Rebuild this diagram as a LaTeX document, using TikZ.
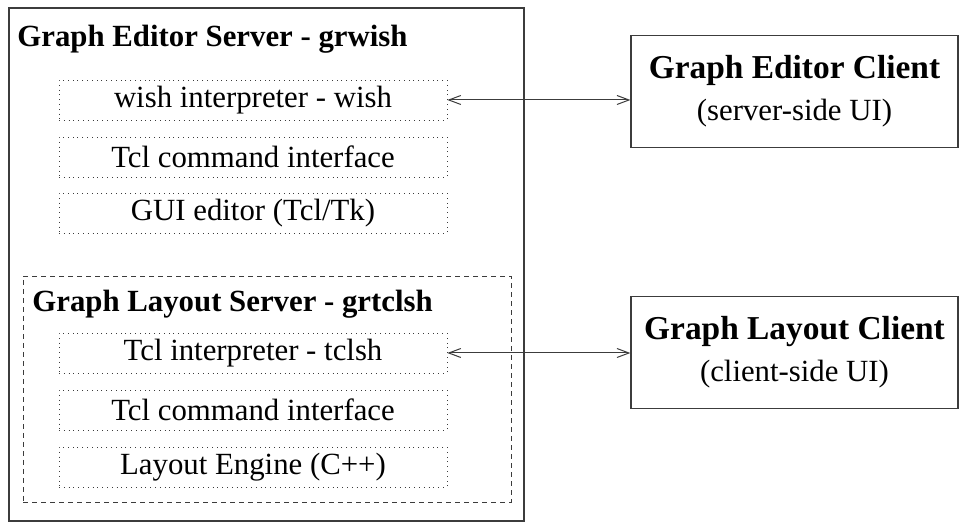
\documentclass[tikz,border=0pt]{standalone}
\usepackage{fontspec}
\setmainfont{Liberation Serif}
\usetikzlibrary{arrows.meta}
\definecolor{lineGrey}{RGB}{60, 60, 60}

\begin{document}
\begin{tikzpicture} [
        x=0.5pt, y=-0.5pt,
        part/.style={draw=lineGrey, dotted, minimum width=194pt, minimum height=20pt, inner sep=0pt,
            font=\fontsize{15.4}{18}\selectfont},
        ttl/.style={anchor=base west, inner sep=0pt, font=\fontsize{15.4}{18}\selectfont\bfseries},
        client/.style={draw=lineGrey, line width=0.6pt, minimum width=163.5pt, minimum height=56pt,
            align=center, font=\fontsize{15.4}{21}\selectfont},
        link/.style={lineGrey, line width=0.5pt,
            {Straight Barb[length=6pt, width=4.5pt]}-{Straight Barb[length=6pt, width=4.5pt]}}
    ]
        \useasboundingbox (0, 0) rectangle (960, 523);

        % SERVER: grwish
        \node [draw=lineGrey, line width=0.6pt, minimum width=257.5pt, minimum height=256.5pt, inner sep=0pt] (grwish) at (266.5, 264.5) {};
        \node [ttl] (grwishtitle) at (17, 47) {Graph Editor Server - grwish};

        % SERVER: grtclsh
        \node [draw=lineGrey, dash pattern=on 2.5pt off 2pt, minimum width=244pt, minimum height=113pt, inner sep=0pt] (grtclsh) at (267, 389) {};
        \node [ttl] (grtclshtitle) at (32, 312) {Graph Layout Server - grtclsh};

        % parts of both servers
        \foreach \y/\name/\txt in {100/wish/{wish interpreter - wish}, 157/tcla/{Tcl command interface}, 213/gui/{GUI editor (Tcl/Tk)},
                                   353/tclsh/{Tcl interpreter - tclsh}, 410/tclb/{Tcl command interface}, 467/engine/{Layout Engine (C++)}} {
            \node [part] (\name) at (253, \y) {\txt};
        }

        % CLIENTS
        \node [client] (gec) at (794.5, 91.5) {{\fontsize{16.7}{20}\selectfont\bfseries Graph Editor Client}\\(server-side UI)};
        \node [client] (glc) at (794.5, 352.5) {{\fontsize{16.7}{20}\selectfont\bfseries Graph Layout Client}\\(client-side UI)};

        \draw [link] (wish.east) -- (wish.east -| gec.west);
        \draw [link] (tclsh.east) -- (tclsh.east -| glc.west);
    \end{tikzpicture}
\end{document}
